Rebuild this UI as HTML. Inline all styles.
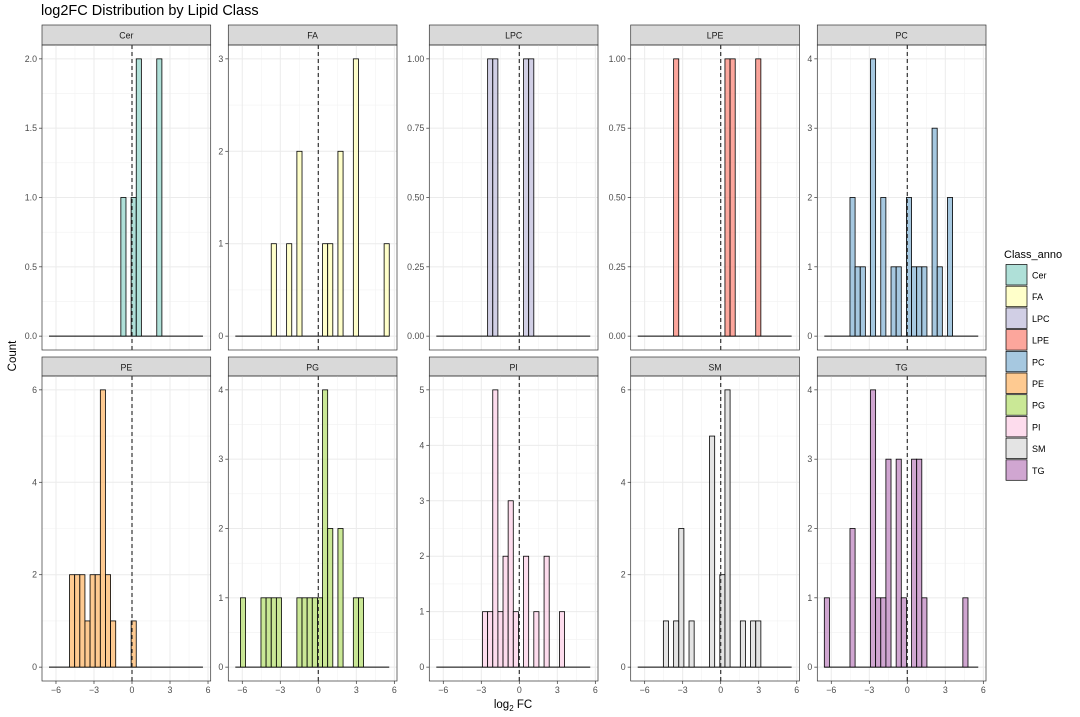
<!DOCTYPE html>
<html><head><meta charset="utf-8"><style>
body{margin:0;background:#fff;font-family:"Liberation Sans",Arial,sans-serif}
svg text{font-family:"Liberation Sans",Arial,sans-serif}
</style></head><body>
<svg id="chart" width="1080" height="712" viewBox="0 0 1080 712" xmlns="http://www.w3.org/2000/svg">
<rect width="1080" height="712" fill="#fff"/>
<text x="41" y="15" font-size="14.5" fill="#000">log2FC Distribution by Lipid Class</text>
<text transform="translate(16,356) rotate(-90)" text-anchor="middle" font-size="11.5" fill="#000">Count</text>
<text x="513" y="708" text-anchor="middle" font-size="11.5" fill="#000">log<tspan font-size="8" dy="3">2</tspan><tspan dy="-3"> FC</tspan></text>
<g id="panels"></g>
<g id="legend"></g>
</svg>
<script>
const classes = ["Cer","FA","LPC","LPE","PC","PE","PG","PI","SM","TG"];
const colors = ["#8DD3C7","#FFFFB3","#BEBADA","#FB8072","#80B1D3","#FDB462","#B3DE69","#FCCDE5","#D9D9D9","#BC80BD"];
const binStart = -6.55;
const binWidth = 0.405;
const binCount = 30;
// [binIndex, count]
const countsCer = [[14,1],[16,1],[17,2],[21,2]];
const countsFA = [[7,1],[10,1],[12,2],[17,1],[18,1],[20,2],[23,3],[29,1]];
const countsLPC = [[10,1],[11,1],[17,1],[18,1]];
const countsLPE = [[7,1],[17,1],[18,1],[23,1]];
const countsPC = [[5,2],[6,1],[7,1],[9,4],[11,2],[13,1],[14,1],[16,2],[17,1],[18,1],[19,1],[21,3],[22,1],[24,2]];
const countsPE = [[4,2],[5,2],[6,2],[7,1],[8,2],[9,2],[10,6],[11,2],[12,1],[16,1]];
const countsPG = [[1,1],[5,1],[6,1],[7,1],[8,1],[12,1],[13,1],[14,1],[15,1],[16,1],[17,4],[18,2],[20,2],[23,1],[24,1]];
const countsPI = [[9,1],[10,1],[11,5],[12,1],[13,2],[14,3],[15,1],[17,2],[19,1],[21,2],[24,1]];
const countsSM = [[5,1],[7,1],[8,3],[10,1],[14,5],[16,2],[17,6],[20,1],[22,1],[23,1]];
const countsTG = [[0,1],[5,2],[9,4],[10,1],[11,1],[12,3],[14,3],[15,1],[17,3],[18,3],[19,1],[27,1]];
const allCounts = [countsCer,countsFA,countsLPC,countsLPE,countsPC,countsPE,countsPG,countsPI,countsSM,countsTG];
const yTicksCer = ["0.0","0.5","1.0","1.5","2.0"];
const yTicksFA = ["0","1","2","3"];
const yTicksLPC = ["0.00","0.25","0.50","0.75","1.00"];
const yTicksLPE = ["0.00","0.25","0.50","0.75","1.00"];
const yTicksPC = ["0","1","2","3","4"];
const yTicksPE = ["0","2","4","6"];
const yTicksPG = ["0","1","2","3","4"];
const yTicksPI = ["0","1","2","3","4","5"];
const yTicksSM = ["0","2","4","6"];
const yTicksTG = ["0","1","2","3","4"];
const allYTicks = [yTicksCer,yTicksFA,yTicksLPC,yTicksLPE,yTicksPC,yTicksPE,yTicksPG,yTicksPI,yTicksSM,yTicksTG];
const xTicks = [-6,-3,0,3,6];

const NS="http://www.w3.org/2000/svg";
function mk(tag,attrs,parent){const e=document.createElementNS(NS,tag);for(const k in attrs)e.setAttribute(k,attrs[k]);parent.appendChild(e);return e;}
const panelLefts=[42,228.3,429.3,630.7,817.3];
const PW=168.7;
const rows=[{top:45,bottom:350,strip:25},{top:376,bottom:681,strip:357}];
const g=document.getElementById('panels');
classes.forEach((cls,ci)=>{
  const r=rows[Math.floor(ci/5)], L=panelLefts[ci%5], R=L+PW;
  const counts=allCounts[ci], ticks=allYTicks[ci];
  const ymax=parseFloat(ticks[ticks.length-1]);
  const ymaxData=Math.max(...counts.map(c=>c[1]));
  const yTop=Math.max(ymax,ymaxData);
  const H=r.bottom-r.top;
  const y=v=>r.bottom-(v+0.05*yTop)/(1.1*yTop)*H;
  const x=v=>L+90+v*12.67;
  const pg=mk('g',{},g);
  
  
  const st=mk('rect',{x:L,y:r.strip,width:PW,height:r.top-r.strip,fill:'#D9D9D9',stroke:'#333','stroke-width':0.7},pg);
  
  
  const stt=mk('text',{x:L+PW/2,y:r.strip+13.5,'text-anchor':'middle','font-size':8.8,fill:'#1A1A1A'},pg);
  stt.textContent=cls;
  
  
  const step=parseFloat(ticks[1])-parseFloat(ticks[0]);
  for(let v=step/2; v<=yTop*1.05; v+=step){ mk('line',{x1:L,x2:R,y1:y(v),y2:y(v),stroke:'#F2F2F2','stroke-width':0.6},pg); }
  for(let v=-7.5; v<=7.5; v+=3){ if(x(v)>L&&x(v)<R) mk('line',{x1:x(v),x2:x(v),y1:r.top,y2:r.bottom,stroke:'#F2F2F2','stroke-width':0.6},pg); }
  ticks.forEach(t=>{const v=parseFloat(t);
    mk('line',{x1:L,x2:R,y1:y(v),y2:y(v),stroke:'#EBEBEB','stroke-width':1},pg);
    mk('line',{x1:L-3,x2:L,y1:y(v),y2:y(v),stroke:'#333','stroke-width':0.7},pg);
    const tl=mk('text',{x:L-5,y:y(v)+3,'text-anchor':'end','font-size':8.8,fill:'#4D4D4D'},pg);
    tl.textContent=t;
    
    
  });
  xTicks.forEach(v=>{
    mk('line',{x1:x(v),x2:x(v),y1:r.top,y2:r.bottom,stroke:'#EBEBEB','stroke-width':1},pg);
    if(ci>=5){
      mk('line',{x1:x(v),x2:x(v),y1:r.bottom,y2:r.bottom+3,stroke:'#333','stroke-width':0.7},pg);
      const tl=mk('text',{x:x(v),y:r.bottom+12,'text-anchor':'middle','font-size':8.8,fill:'#4D4D4D'},pg);
      tl.textContent=v<0?'\u2212'+(-v):String(v);
      
      
    }
  });
  mk('line',{x1:x(binStart),x2:x(binStart+binCount*binWidth),y1:y(0),y2:y(0),stroke:'#000','stroke-width':0.9},pg);
  counts.forEach(([b,c])=>{
    const x0=x(binStart+b*binWidth), x1=x(binStart+(b+1)*binWidth);
    const bar=mk('rect',{x:x0,y:y(c),width:x1-x0,height:y(0)-y(c),fill:colors[ci],'fill-opacity':0.7,stroke:'#000','stroke-width':0.8},pg);
    
    
  });
  mk('line',{x1:x(0),x2:x(0),y1:r.top,y2:r.bottom,stroke:'#333','stroke-width':1.2,'stroke-dasharray':'4,3'},pg);
  mk('rect',{x:L,y:r.top,width:PW,height:H,fill:'none',stroke:'#333','stroke-width':0.7},pg);
});
const lg=document.getElementById('legend');
const lt=mk('text',{x:1004,y:258,'font-size':11,fill:'#000'},lg);
lt.textContent='Class_anno';


classes.forEach((cls,i)=>{
  const yy=264.5+i*21.7;
  const e=mk('g',{},lg);
  
  
  mk('rect',{x:1006,y:yy,width:21,height:20.5,fill:colors[i],'fill-opacity':0.7,stroke:'#000','stroke-width':0.7},e);
  const t=mk('text',{x:1032,y:yy+14,'font-size':9,fill:'#000'},e);
  t.textContent=cls;
});
</script>
</body></html>
